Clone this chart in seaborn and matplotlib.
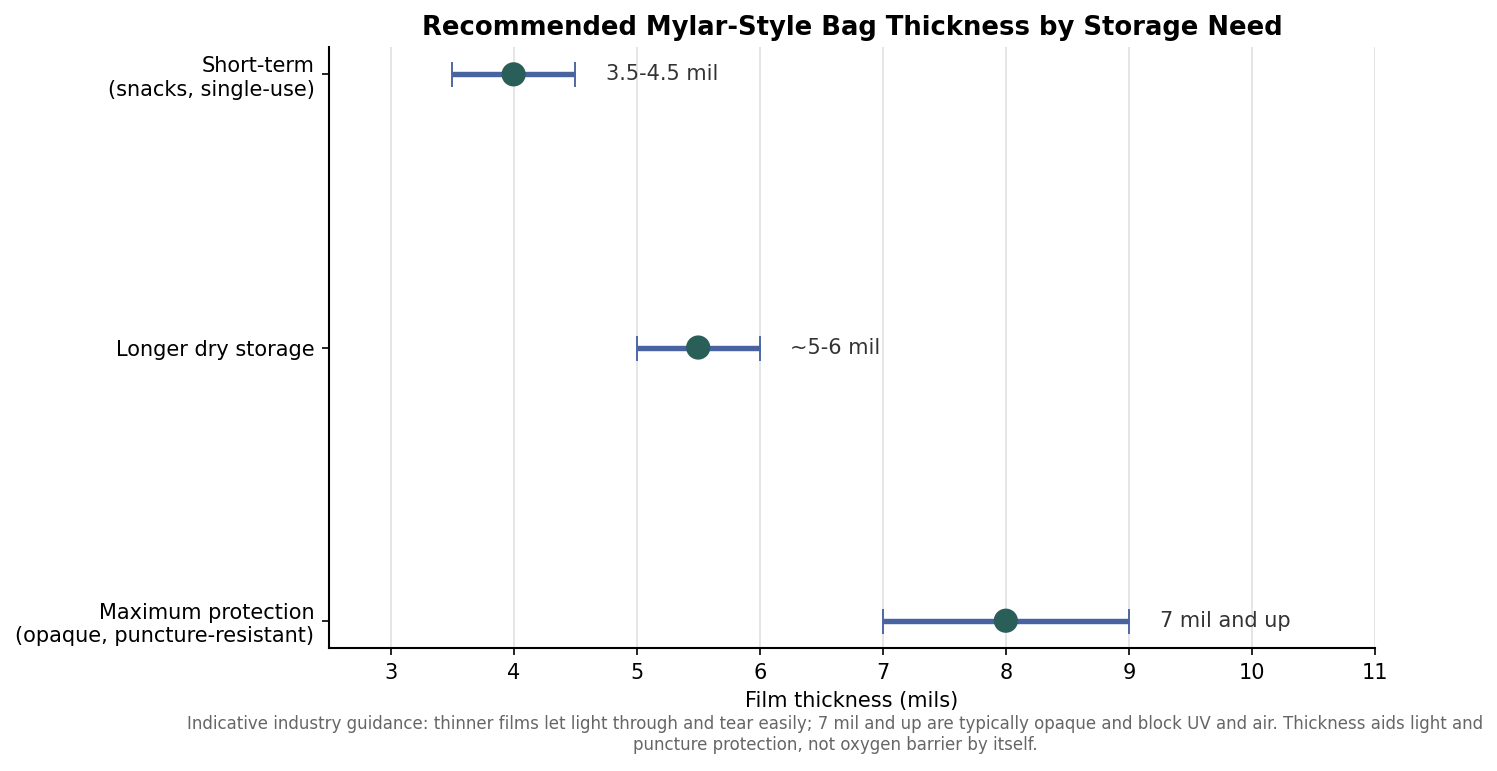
import matplotlib
matplotlib.use("Agg")
import matplotlib.pyplot as plt
import seaborn as sns
import pandas as pd

# data
categories = ["Short-term\n(snacks, single-use)", "Longer dry storage",
              "Maximum protection\n(opaque, puncture-resistant)"]
low = [3.5, 5.0, 7.0]
high = [4.5, 6.0, 9.0]
mid = [4.0, 5.5, 8.0]
range_labels = ["3.5-4.5 mil", "~5-6 mil", "7 mil and up"]

df = pd.DataFrame({"need": categories, "low": low, "high": high, "mid": mid, "label": range_labels})

sns.set_style("white", {"xtick.bottom": True, "ytick.left": True,
                        "text.color": "black", "axes.labelcolor": "black",
                        "xtick.color": "black", "ytick.color": "black"})
plt.rcParams['font.family'] = ['DejaVu Sans']

fig = plt.figure(figsize=(9.98, 5.14), dpi=150)
ax = fig.add_axes([0.2198, 0.1595, 0.6987, 0.7795])

ypos = list(range(len(df)))
ax.errorbar(x=df["mid"], y=ypos,
            xerr=[df["mid"] - df["low"], df["high"] - df["mid"]],
            fmt="none", ecolor="#4863a0", elinewidth=2.6, capsize=6, capthick=0.9, zorder=2)
sns.scatterplot(x=df["mid"], y=ypos, ax=ax, s=135, color="#2a5e59", edgecolor="none", zorder=3)

# value labels to the right of each range
for i, row in df.iterrows():
    ax.text(row["high"] + 0.25, i, row["label"], va="center", ha="left", fontsize=10, color="#333333")

ax.set_yticks(ypos)
ax.set_yticklabels(categories, fontsize=10)
ax.set_xlim(2.5, 11)
ax.set_ylim(2.1, -0.1)
ax.set_xticks(range(3, 12))
ax.tick_params(axis="both", labelsize=10, length=3.5, width=0.8, color="black")
ax.grid(axis="x", color="#e0e0e0", linewidth=0.8)
ax.set_axisbelow(True)
ax.set_xlabel("Film thickness (mils)", fontsize=10)
ax.set_ylabel("")
ax.set_title("Recommended Mylar-Style Bag Thickness by Storage Need", fontsize=12.4,
             fontweight="bold", color="black")
sns.despine(ax=ax)
for s in ["left", "bottom"]:
    ax.spines[s].set_color("black")
    ax.spines[s].set_linewidth(1)

fig.text(0.558, 0.022,
         "Indicative industry guidance: thinner films let light through and tear easily; 7 mil and up are typically opaque and block UV and air. Thickness aids light and\npuncture protection, not oxygen barrier by itself.",
         ha="center", va="bottom", fontsize=8, color="#666666")

fig.savefig("out.png", dpi=150)
